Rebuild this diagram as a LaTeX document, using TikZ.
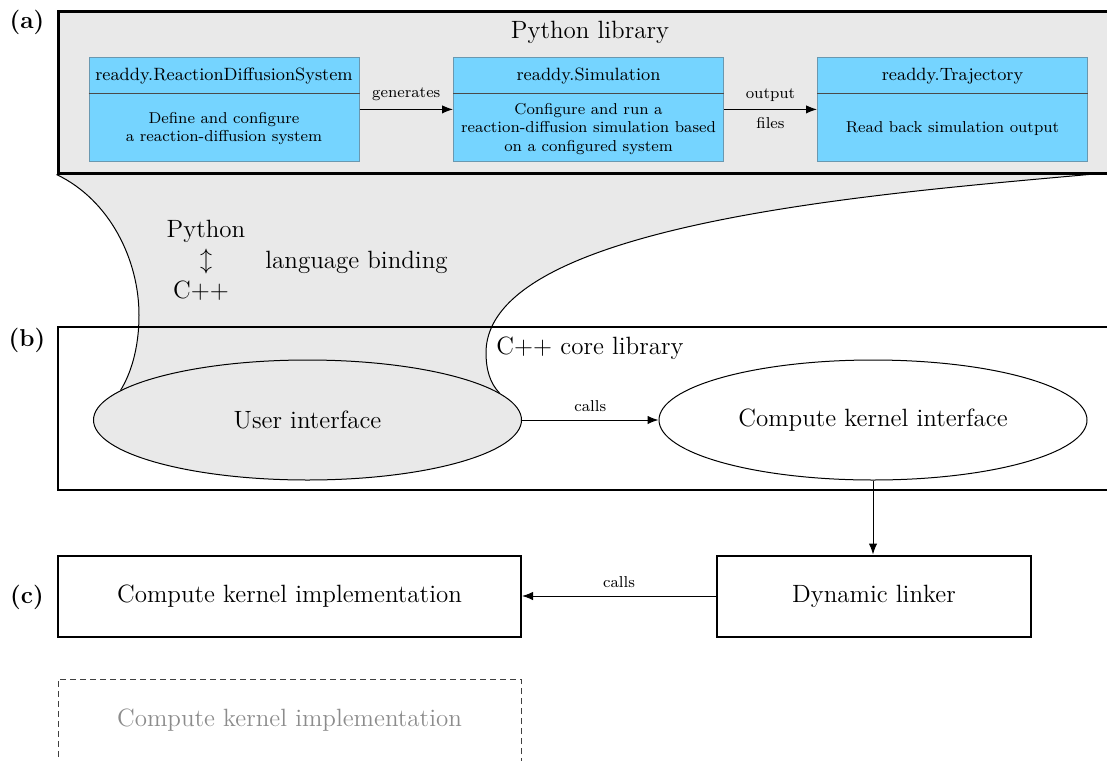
\documentclass[tikz,border=0pt]{standalone}
\usetikzlibrary{arrows.meta,backgrounds,shapes.geometric}

\definecolor{panelgray}{HTML}{E9E9E9}
\definecolor{skyfill}{HTML}{75D4FF}
\definecolor{skyedge}{HTML}{6A98B0}
\definecolor{dividergray}{HTML}{4A4A4A}
\definecolor{dimtext}{HTML}{8C8C8C}

\begin{document}
\begin{tikzpicture}[x=0.5pt,y=-0.5pt,
  bigfont/.style={font=\fontsize{12.5pt}{15.3pt}\selectfont},
  labelfont/.style={font=\fontsize{12.2pt}{15.3pt}\selectfont\bfseries},
  titlefont/.style={font=\fontsize{8.9pt}{10.5pt}\selectfont},
  bodyfont/.style={font=\fontsize{7.9pt}{9.2pt}\selectfont},
  smallfont/.style={font=\fontsize{7.9pt}{9.2pt}\selectfont},
  thinline/.style={line width=0.5pt},
  conn/.style={-{Latex[length=5.5pt,width=4.2pt]}, line width=0.5pt},
  bluebox/.style={draw=skyedge, fill=skyfill, line width=0.5pt,
    minimum width=135pt, minimum height=52pt, inner sep=0pt},
  divider/.style={draw=dividergray, line width=0.5pt},
  panel/.style={draw, line width=1pt, inner sep=0pt},
  blob/.style={ellipse, draw, line width=0.5pt, inner sep=0pt,
    minimum width=214pt, minimum height=60pt, bigfont},
]
\useasboundingbox (0,0) rectangle (1107,760);

% ---------- (a) Python library ----------
\node[panel, line width=1.5pt, fill=panelgray, minimum width=532pt,
      minimum height=81pt] (pylib) at (590,92) {};
\node[bigfont] (pylibT) at (590,32) {Python library};

\node[bluebox] (rds)  at (224,109.4) {};
\node[bluebox] (sim)  at (588.5,109.4) {};
\node[bluebox] (traj) at (952.5,109.4) {};

\foreach \b in {rds,sim,traj}
  \draw[divider] ([yshift=-18.2pt]\b.north west) -- ([yshift=-18.2pt]\b.north east);

\node[titlefont] (rdsT)  at ([yshift=-9.8pt]rds.north)  {readdy.ReactionDiffusionSystem};
\node[titlefont] (simT)  at ([yshift=-9.8pt]sim.north)  {readdy.Simulation};
\node[titlefont] (trajT) at ([yshift=-9.8pt]traj.north) {readdy.Trajectory};

\node[bodyfont, align=center] (rdsB)  at ([yshift=16.6pt]rds.south)
  {Define and configure\\a reaction-diffusion system};
\node[bodyfont, align=center] (simB)  at ([yshift=16.6pt]sim.south)
  {Configure and run a\\reaction-diffusion simulation based\\on a configured system};
\node[bodyfont, align=center] (trajB) at ([yshift=16.6pt]traj.south)
  {Read back simulation output};

\draw[conn] (rds.east) -- node[above=0.5pt, smallfont] {generates} (sim.west);
\draw[conn] (sim.east) -- node[above=0.5pt, smallfont] {output}
                          node[below=0.5pt, smallfont] {files} (traj.west);

% ---------- (b) C++ core library ----------
\node[panel, minimum width=532pt, minimum height=81.5pt] (core) at (590,408.5) {};
\node[bigfont] (coreT) at (590,348) {C++ core library};

\node[blob, fill=panelgray] (ui)  at (307.5,420) {User interface};
\node[blob, fill=white]     (cki) at (873,420)   {Compute kernel interface};

\draw[conn] (ui.east) -- node[above=0.5pt, smallfont] {calls} (cki.west);

% language binding between the two layers
\coordinate (fr) at (1105,173);
\begin{scope}[on background layer]
  \fill[panelgray] (pylib.south west) -- (fr)
    .. controls (900,192) and (488,220) .. (486,352)
    .. controls (486,370) and (490,383) .. (ui.8)
    -- (ui.171)
    .. controls (130,375) and (139,350) .. (139,315)
    .. controls (139,260) and (110,200) .. (pylib.south west) -- cycle;
  \draw[thinline] (fr)
    .. controls (900,192) and (488,220) .. (486,352)
    .. controls (486,370) and (490,383) .. (ui.8);
  \draw[thinline] (pylib.south west)
    .. controls (110,200) and (139,260) .. (139,315)
    .. controls (139,350) and (130,375) .. (ui.171);
\end{scope}

\node[bigfont] (py)    at (206,231) {Python};
\node[bigfont] (updn)  at (206,261.5) {$\updownarrow$};
\node[bigfont] (cpp)   at (201,291) {C++};
\node[bigfont] (bind)  at (356.5,262) {language binding};

% ---------- (c) compute kernels ----------
\node[panel, minimum width=231.5pt, minimum height=40.5pt, bigfont] (impl)
  at (289.5,596) {Compute kernel implementation};
\node[panel, minimum width=157pt, minimum height=40.5pt, bigfont] (linker)
  at (874,596) {Dynamic linker};
\node[draw=black!75, dashed, dash pattern=on 3pt off 2pt, line width=0.5pt,
      inner sep=0pt, minimum width=231.5pt, minimum height=41pt,
      bigfont, text=dimtext] (impl2)
  at (289.5,720) {Compute kernel implementation};

\draw[conn] (cki.south) -- (cki.south |- linker.north);
\draw[conn] (linker.west) -- node[above=0.5pt, smallfont] {calls} (impl.east);

% panel letters
\node[labelfont] (la) at (27,22)  {(a)};
\node[labelfont] (lb) at (27,340) {(b)};
\node[labelfont] (lc) at (27,597) {(c)};
\end{tikzpicture}
\end{document}
